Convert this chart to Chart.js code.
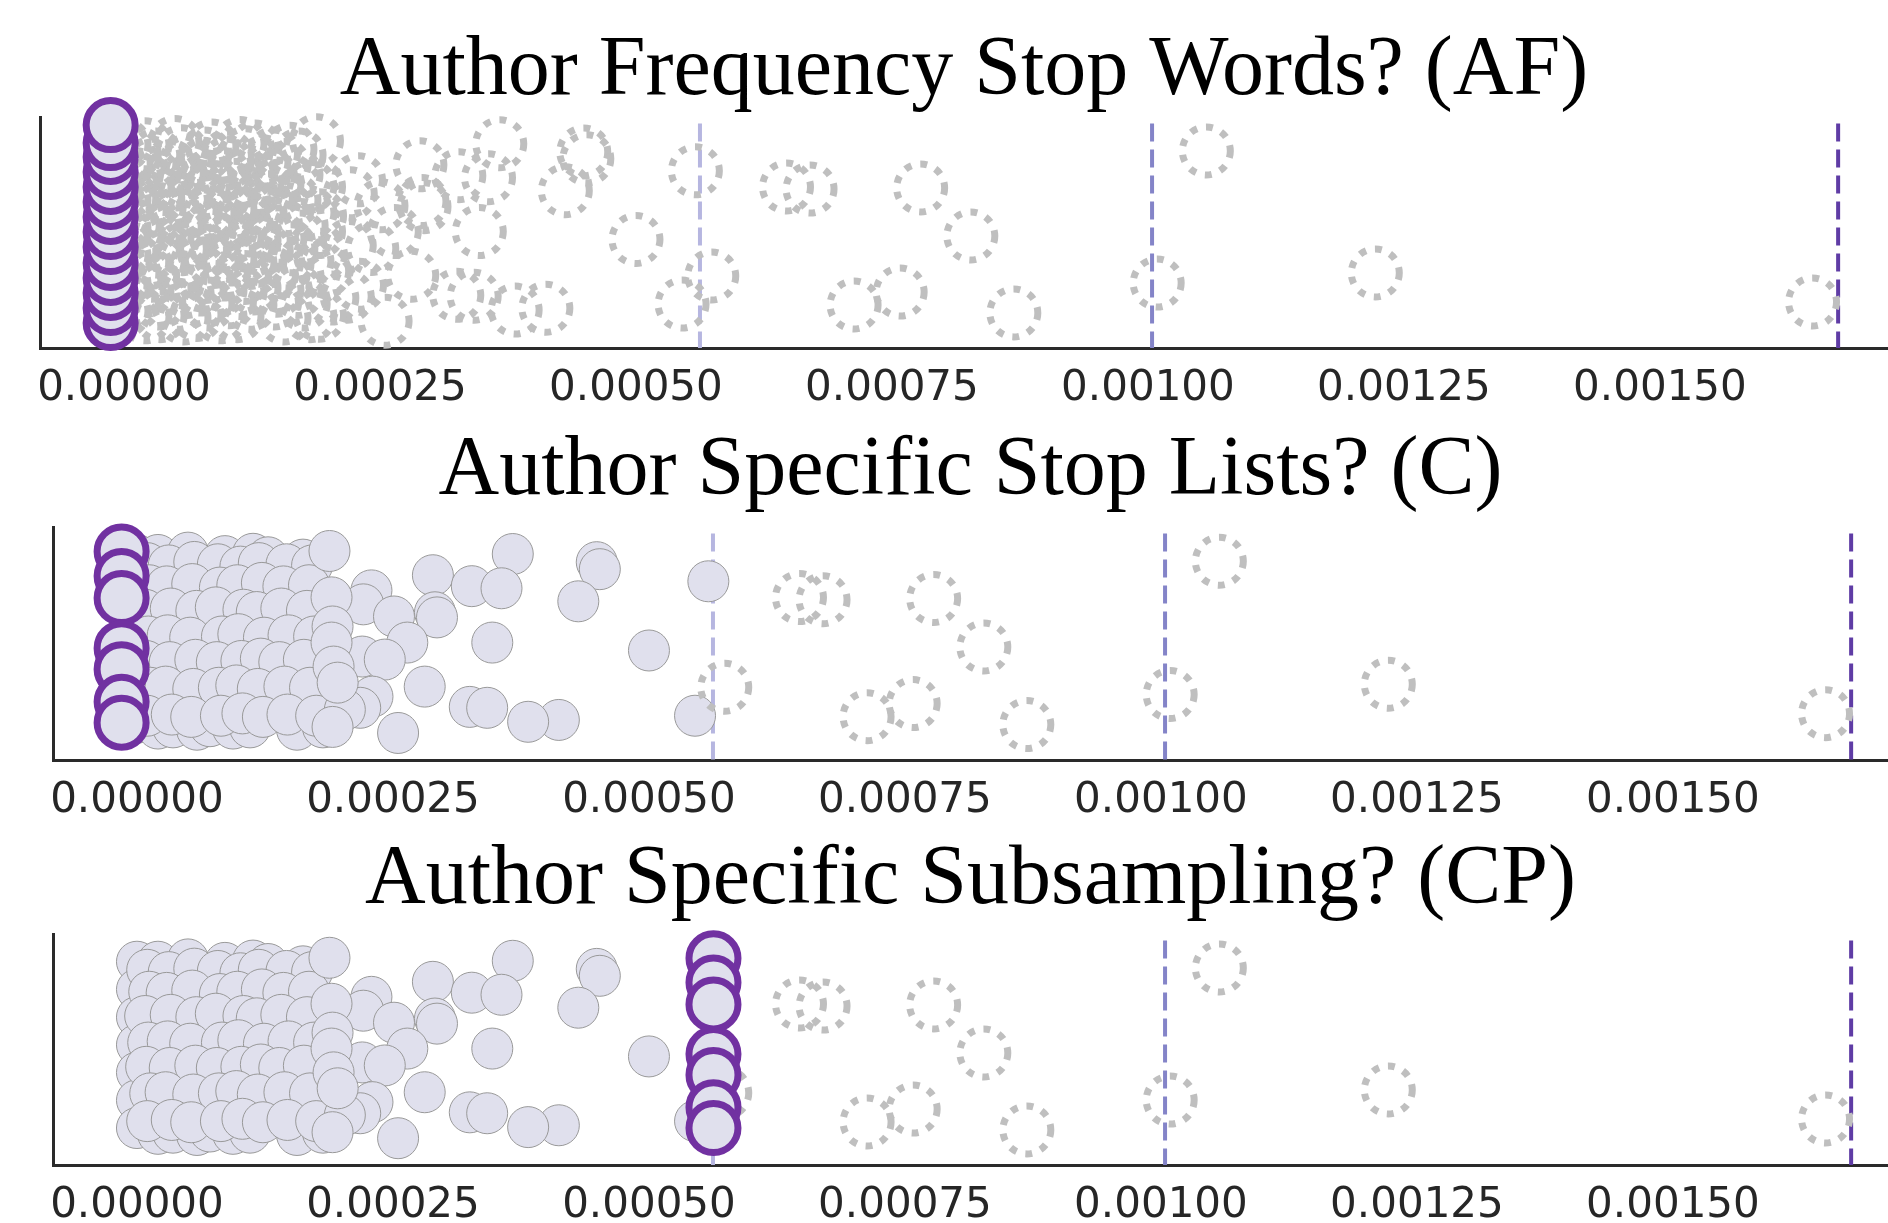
<!DOCTYPE html>
<html><head><meta charset="utf-8">
<script src="https://cdn.jsdelivr.net/npm/chart.js@4/dist/chart.umd.min.js"></script>
<style>
html,body{margin:0;padding:0;background:#fff;width:1888px;height:1223px;overflow:hidden;}
canvas{position:absolute;left:0;}
</style></head><body>
<canvas id="c1" width="1888" height="420" style="top:0px"></canvas>
<canvas id="c2" width="1888" height="400" style="top:420px"></canvas>
<canvas id="c3" width="1888" height="403" style="top:820px"></canvas>
<script>
// ---------------- data ----------------
const panelTitles = ['Author Frequency Stop Words? (AF)', 'Author Specific Stop Lists? (C)', 'Author Specific Subsampling? (CP)'];
const tickValues = [0, 0.00025, 0.0005, 0.00075, 0.001, 0.00125, 0.0015];
const tickLabels = ['0.00000', '0.00025', '0.00050', '0.00075', '0.00100', '0.00125', '0.00150'];
const thresholdLines = [0.0005625, 0.001004, 0.001674];
const thresholdValue = 0.0005625;

// base distribution (x = value, y = jitter position in [0,1])
const baseX = [
  0, 0, 0, 0, 0, 0, 0,
  0.0000205, 0.0000498, 0.0000859, 0.0001133, 0.000128, 0.0001621,
  0.0000273, 0.0000449, 0.0000615, 0.0000781, 0.0001006, 0.0001084, 0.0001367, 0.0001563,
  0.0000225, 0.0000391, 0.0000518, 0.0000713, 0.0000879, 0.0001074, 0.00013, 0.0001494, 0.0001816,
  0.0000205, 0.0000342, 0.0000518, 0.0000684, 0.000084, 0.0001035, 0.0001133, 0.0001328, 0.0001592, 0.0001816,
  0.0000225, 0.000042, 0.0000586, 0.0000742, 0.0000908, 0.0001104, 0.000127, 0.0001523, 0.0001719,
  0.0000205, 0.0000352, 0.0000547, 0.0000713, 0.0000879, 0.0001035, 0.000123, 0.0001328, 0.0001592, 0.0001787,
  0.0000225, 0.000042, 0.0000615, 0.0000742, 0.0000938, 0.0001133, 0.000127, 0.0001494, 0.0001689,
  0.0000205, 0.0000352, 0.0000586, 0.0000713, 0.0000938, 0.0001104, 0.0001563, 0.0001816,
  0.000010, 0.000031, 0.000056, 0.000079, 0.000101, 0.000119, 0.000146, 0.000171,
  0.000012, 0.000029, 0.000054, 0.000081, 0.000098, 0.000122, 0.000143, 0.000168,
  0.000008, 0.000033, 0.000058, 0.000077, 0.000104, 0.000117, 0.000141, 0.000166,
  0.000011, 0.000030, 0.000052, 0.000083, 0.000099, 0.000124, 0.000148, 0.000173,
  0.000009, 0.000032, 0.000057, 0.000078, 0.000102, 0.000121, 0.000139, 0.000163,
  0.000013, 0.000028, 0.000055, 0.000080, 0.000097, 0.000118, 0.000144, 0.000169,
  0.000010, 0.000034, 0.000053, 0.000082, 0.000103, 0.000123, 0.000147, 0.000175,
  0.000188, 0.000229, 0.000221, 0.000289, 0.000327, 0.000367, 0.000356, 0.000251, 0.000291, 0.000293,
  0.000347, 0.000264, 0.000220, 0.000242, 0.000281, 0.000230, 0.000218, 0.000203, 0.000191, 0.000255,
  0.000325, 0.000342, 0.000190, 0.000191, 0.000190, 0.000192, 0.000196,
  0.000449, 0.000452, 0.000431, 0.000412, 0.000382, 0.000558, 0.000545, 0.000500,
  0.000574, 0.000647, 0.000670, 0.000778, 0.000827, 0.000713, 0.000758, 0.000869, 0.001057, 0.001009, 0.001222, 0.001649
];
const baseY = [
  0.88, 0.76, 0.64, 0.52, 0.40, 0.28, 0.16,
  0.88, 0.89, 0.875, 0.885, 0.87, 0.86,
  0.80, 0.79, 0.81, 0.795, 0.80, 0.785, 0.805, 0.79,
  0.70, 0.69, 0.71, 0.70, 0.695, 0.705, 0.69, 0.71, 0.70,
  0.59, 0.60, 0.58, 0.595, 0.585, 0.60, 0.58, 0.59, 0.60, 0.585,
  0.475, 0.48, 0.47, 0.485, 0.47, 0.48, 0.465, 0.475, 0.48,
  0.375, 0.37, 0.38, 0.365, 0.375, 0.385, 0.37, 0.38, 0.365, 0.375,
  0.25, 0.26, 0.245, 0.255, 0.25, 0.24, 0.26, 0.25, 0.245,
  0.135, 0.14, 0.13, 0.145, 0.135, 0.14, 0.13, 0.14,
  0.845, 0.835, 0.85, 0.84, 0.83, 0.845, 0.84, 0.835,
  0.75, 0.745, 0.755, 0.74, 0.75, 0.76, 0.745, 0.75,
  0.645, 0.65, 0.64, 0.655, 0.645, 0.635, 0.65, 0.64,
  0.53, 0.535, 0.525, 0.53, 0.54, 0.525, 0.535, 0.53,
  0.425, 0.42, 0.43, 0.42, 0.425, 0.435, 0.42, 0.43,
  0.31, 0.315, 0.305, 0.31, 0.32, 0.305, 0.315, 0.31,
  0.19, 0.195, 0.185, 0.19, 0.2, 0.185, 0.195, 0.19,
  0.897, 0.728, 0.668, 0.793, 0.746, 0.884, 0.737, 0.616, 0.634, 0.612,
  0.504, 0.504, 0.444, 0.431, 0.315, 0.272, 0.224, 0.216, 0.142, 0.116,
  0.228, 0.224, 0.698, 0.573, 0.504, 0.401, 0.332,
  0.849, 0.819, 0.681, 0.172, 0.164, 0.767, 0.190, 0.470,
  0.312, 0.697, 0.688, 0.693, 0.485, 0.186, 0.242, 0.152, 0.853, 0.281, 0.325, 0.199
];

// transformed (highlighted) points per panel
const afX = [-0.000013, -0.000013, -0.000013, -0.000013, -0.000013, -0.000013, -0.000013,
             -0.000013, -0.000013, -0.000013, -0.000013, -0.000013, -0.000013, -0.000013];
const afY = [0.108, 0.173, 0.238, 0.303, 0.368, 0.437, 0.502, 0.567, 0.632, 0.697, 0.762, 0.827, 0.887, 0.965];
const cX = [-0.000015, -0.000015, -0.000015, -0.000015, -0.000015, -0.000015, -0.000015];
const cY = [0.895, 0.79, 0.695, 0.48, 0.39, 0.25, 0.16];
const cpX = [0.000563, 0.000563, 0.000563, 0.000563, 0.000563, 0.000563, 0.000563];
const cpY = [0.895, 0.79, 0.695, 0.48, 0.39, 0.25, 0.16];

// ---------------- drawing ----------------
const GRAY = '#bfbfbf', FILL = '#e0e0ed', EDGE = '#999999', PURPLE = '#7131a1';
const lineColors = ['#b6b6e0', '#8484c8', '#5f3ca5'];
const toPts = (xs, ys) => xs.map((x, i) => ({x: x, y: ys[i]}));
const basePts = toPts(baseX, baseY);

const helper = {
  id: 'helper',
  beforeDatasetDraw(chart, args) {
    const ds = chart.data.datasets[args.index];
    if (ds.pointDash) { chart.ctx.save(); chart.ctx.setLineDash(ds.pointDash); chart.ctx.lineCap = 'butt'; }
  },
  afterDatasetDraw(chart, args) {
    const ds = chart.data.datasets[args.index];
    if (ds.pointDash) chart.ctx.restore();
  },
  afterDraw(chart) {
    const o = chart.options.plugins.helper;
    const ctx = chart.ctx, a = chart.chartArea;
    ctx.save();
    ctx.font = '84px "Liberation Serif"';
    ctx.fillStyle = '#000';
    ctx.textAlign = 'center';
    ctx.textBaseline = 'alphabetic';
    ctx.fillText(o.title, (a.left + a.right) / 2, o.titleY);
    ctx.restore();
  }
};

function lineSets() {
  return thresholdLines.map((v, i) => ({
    type: 'line', data: [{x: v, y: 0.972}, {x: v, y: 0}],
    borderColor: lineColors[i], borderWidth: 4, borderDash: [18, 8],
    pointRadius: 0, fill: false, order: 10, clip: false
  }));
}
function dotted(pts) {
  return {data: pts, pointRadius: 24, pointBorderWidth: 7, borderWidth: 7, pointBorderColor: GRAY, borderColor: GRAY,
          pointBackgroundColor: 'rgba(0,0,0,0)', backgroundColor: 'rgba(0,0,0,0)',
          pointDash: [7, 9], order: 2, clip: false};
}
function filled(pts) {
  return {data: pts, pointRadius: 20.5, pointBorderWidth: 1, borderWidth: 1, pointBorderColor: EDGE, borderColor: EDGE,
          pointBackgroundColor: FILL, backgroundColor: FILL, order: 3, clip: false};
}
function purple(pts) {
  return {data: pts, pointRadius: 24.5, pointBorderWidth: 7, borderWidth: 7, pointBorderColor: PURPLE, borderColor: PURPLE,
          pointBackgroundColor: FILL, backgroundColor: FILL, order: 0, clip: false};
}

const AXIS_H = 58, YAXIS_W = 10;
function makeChart(id, datasets, opts) {
  const cv = document.getElementById(id);
  const a = opts.area;
  return new Chart(cv, {
    type: 'scatter',
    data: {datasets: datasets},
    plugins: [helper],
    options: {
      responsive: false, animation: false, events: [], devicePixelRatio: 1,
      layout: {autoPadding: false,
               padding: {top: a.top, left: a.left - YAXIS_W, right: cv.width - a.right,
                         bottom: cv.height - AXIS_H - a.bottom}},
      plugins: {legend: {display: false}, tooltip: {enabled: false},
                helper: {title: opts.title, titleY: opts.titleY}},
      scales: {
        x: {
          type: 'linear', min: -0.000082, max: opts.xMax,
          grid: {display: false, drawTicks: false},
          border: {display: true, color: '#2a2a2a', width: 3},
          afterBuildTicks: s => { s.ticks = tickValues.map(v => ({value: v})); },
          afterFit: s => { s.height = AXIS_H; s.paddingLeft = 0; s.paddingRight = 0; },
          ticks: {autoSkip: false, maxRotation: 0, padding: 16, color: '#262626',
                  font: {family: '"DejaVu Sans"', size: 42},
                  callback: v => tickLabels[tickValues.indexOf(v)]}
        },
        y: {
          type: 'linear', min: 0, max: 1,
          grid: {display: false, drawTicks: false},
          border: {display: true, color: '#2a2a2a', width: 3},
          ticks: {display: false},
          afterFit: s => { s.width = YAXIS_W; s.paddingTop = 0; s.paddingBottom = 0; }
        }
      }
    }
  });
}

const below = basePts.filter(p => p.x < thresholdValue);
const above = basePts.filter(p => p.x >= thresholdValue);

makeChart('c1', [purple(toPts(afX, afY)), dotted(basePts), ...lineSets()],
  {area: {top: 117, left: 40, right: 1888, bottom: 348}, xMax: 0.0017227, title: panelTitles[0], titleY: 94});
makeChart('c2', [purple(toPts(cX, cY)), dotted(above), filled(below), ...lineSets()],
  {area: {top: 107, left: 53, right: 1888, bottom: 340}, xMax: 0.00171, title: panelTitles[1], titleY: 74});
makeChart('c3', [purple(toPts(cpX, cpY)), dotted(above), filled(below), ...lineSets()],
  {area: {top: 114, left: 53, right: 1888, bottom: 345}, xMax: 0.00171, title: panelTitles[2], titleY: 83});
</script>
</body></html>
